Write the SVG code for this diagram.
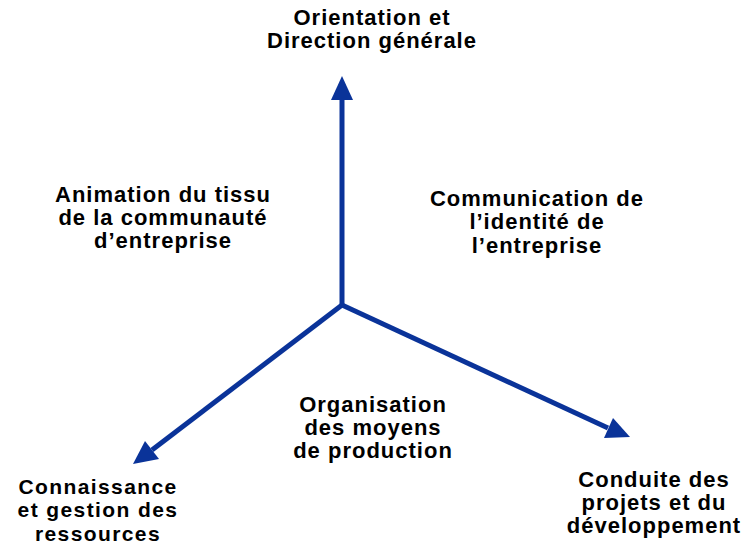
<svg xmlns="http://www.w3.org/2000/svg" width="745" height="546" viewBox="0 0 745 546">
<style>
.t{font-family:"Liberation Sans",Arial,sans-serif;font-weight:bold;font-size:22px;letter-spacing:1px;fill:#000;text-anchor:middle}
.s{font-size:21px;letter-spacing:1.4px}
.ax{stroke:#0a3399;stroke-width:5;fill:none;stroke-linejoin:miter}
.hd{fill:#0a3399}
</style>
<rect width="745" height="546" fill="#fff"/>
<g id="connectors">
<polyline class="ax" points="342,98 342,305"/>
<polyline class="ax" points="342,305 152,450"/>
<polyline class="ax" points="342,305 608,428"/>
<polygon class="hd" points="342,76 353,100 331,100"/>
<polygon class="hd" points="133,464 145,441 159,459"/>
<polygon class="hd" points="630,437 604,438 613,418"/>
</g>
<g id="n-orientation"><text class="t" x="372" y="25">Orientation et</text><text class="t" x="372" y="48">Direction générale</text></g>
<g id="n-animation"><text class="t" x="163" y="202">Animation du tissu</text><text class="t" x="163" y="225">de la communauté</text><text class="t" x="163" y="248">d’entreprise</text></g>
<g id="n-communication"><text class="t" x="537" y="206">Communication de</text><text class="t" x="537" y="229">l’identité de</text><text class="t" x="537" y="253">l’entreprise</text></g>
<g id="n-organisation"><text class="t" x="373" y="412">Organisation</text><text class="t" x="373" y="435">des moyens</text><text class="t" x="373" y="458">de production</text></g>
<g id="n-connaissance"><text class="t s" x="98" y="494">Connaissance</text><text class="t s" x="98" y="517">et gestion des</text><text class="t s" x="98" y="541">ressources</text></g>
<g id="n-conduite"><text class="t" x="654" y="487">Conduite des</text><text class="t" x="654" y="510">projets et du</text><text class="t" x="654" y="533">développement</text></g>
</svg>
